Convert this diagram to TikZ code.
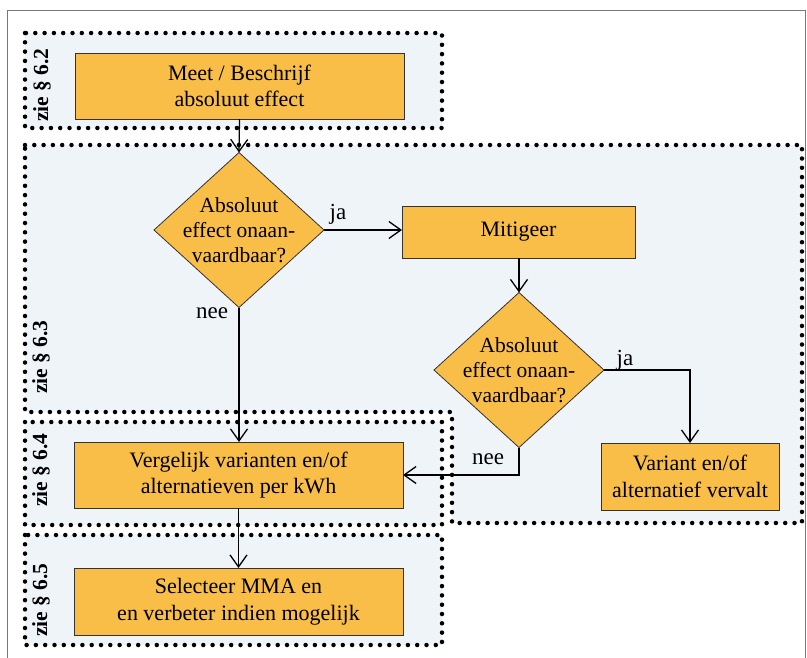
\documentclass[tikz,border=0pt]{standalone}
\usepackage{fontspec}
\setmainfont{Liberation Serif}
\usetikzlibrary{shapes.geometric,arrows.meta}
\definecolor{boxorange}{RGB}{249,190,72}
\definecolor{zonefill}{RGB}{239,244,249}
\definecolor{framegray}{RGB}{120,120,120}
\tikzset{
  zone/.style={fill=zonefill},
  zonedots/.style={draw=black,line width=4.5pt,line cap=round,dash pattern=on 0pt off 9.3pt},
  procbox/.style={draw=black!80,line width=0.8pt,fill=boxorange,inner sep=0pt,outer sep=0pt,align=center,font=\fontsize{22}{26.5}\selectfont},
  decbox/.style={diamond,draw=black!80,line width=0.8pt,fill=boxorange,inner sep=0pt,outer sep=0pt,minimum width=170pt,minimum height=155pt},
  dectext/.style={align=center,font=\fontsize{21.5}{25}\selectfont},
  flow/.style={draw=black,line width=1.3pt,-{Straight Barb[length=12pt,width=17pt,line width=1.3pt]}},
  edgelab/.style={font=\fontsize{23}{24}\selectfont,inner sep=0pt},
  zonelab/.style={font=\bfseries\fontsize{21.5}{22}\selectfont,rotate=90,inner sep=0pt}
}
\begin{document}
\begin{tikzpicture}[x=1pt,y=-1pt]
\useasboundingbox (0,0) rectangle (807,657);
\fill[white] (0,0) rectangle (807,657);
% outer frame
\draw[framegray,line width=0.9pt] (7,662) -- (7,10) -- (805,10) -- (805,662);
% zones
\path[zone] (25,33) rectangle (442,128);
\path[zone] (25,145) -- (802,145) -- (802,523) -- (452,523) -- (452,412) -- (25,412) -- cycle;
\path[zone] (25,422) rectangle (442,525);
\path[zone] (25,535) rectangle (442,645);
\draw[zonedots] (25,33) rectangle (442,128);
\draw[zonedots] (25,145) -- (802,145) -- (802,523) -- (452,523) -- (452,412) -- (25,412) -- cycle;
\draw[zonedots] (25,422) rectangle (442,525);
\draw[zonedots] (25,535) rectangle (442,645);
% zone labels
\node[zonelab] (z2) at (42,85) {zie § 6.2};
\node[zonelab] (z3) at (41,357) {zie § 6.3};
\node[zonelab] (z4) at (41,470) {zie § 6.4};
\node[zonelab] (z5) at (41,600) {zie § 6.5};
% nodes
\node[procbox,minimum width=329pt,minimum height=66pt] (meet) at (239.5,86) {Meet / Beschrijf\\absoluut effect};
\node[decbox] (d1) at (239,230) {};
\node[dectext] (d1t) at (239,230) {Absoluut\\effect onaan-\\vaardbaar?};
\node[procbox,minimum width=233pt,minimum height=52pt] (mit) at (518.5,232) {Mitigeer};
\node[decbox] (d2) at (519,370) {};
\node[dectext] (d2t) at (519,370) {Absoluut\\effect onaan-\\vaardbaar?};
\node[procbox,minimum width=329pt,minimum height=66pt] (verg) at (238.5,475) {Vergelijk varianten en/of\\alternatieven per kWh};
\node[procbox,minimum width=178pt,minimum height=67pt] (var) at (690,476.5) {Variant en/of\\alternatief vervalt};
\node[procbox,minimum width=329pt,minimum height=67pt] (sel) at (238.5,601.5) {Selecteer MMA en\\en verbeter indien mogelijk};
% connectors
\draw[flow] (meet.south) -- (d1.north);
\draw[flow,line width=1.7pt] (d1.east) -- (mit.west |- d1.east);
\draw[flow] (mit.south -| d2.north) -- (d2.north);
\draw[flow] (d1.south) -- (verg.north -| d1.south);
\coordinate (c1) at (var.north |- d2.east);
\draw[flow,line width=1.7pt] (d2.east) -- (c1) -- (var.north);
\coordinate (c2) at (d2.south |- verg.east);
\draw[flow,line width=1.7pt] (d2.south) -- (c2) -- (verg.east);
\draw[flow] (verg.south) -- (sel.north);
% edge labels
\node[edgelab] (ja1) at (338,214) {ja};
\node[edgelab] (nee1) at (212,313) {nee};
\node[edgelab] (ja2) at (625,360) {ja};
\node[edgelab] (nee2) at (488,459) {nee};
\end{tikzpicture}
\end{document}
